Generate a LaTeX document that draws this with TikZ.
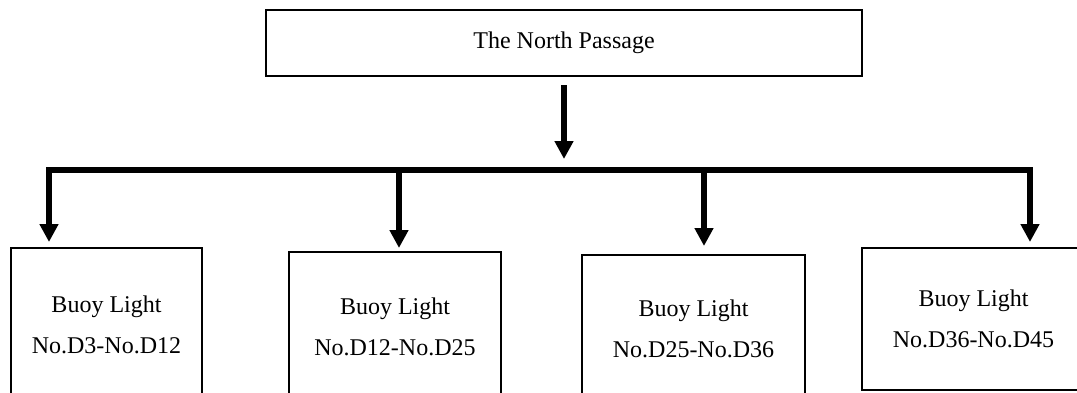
\documentclass[tikz,border=0pt]{standalone}
\usepackage{fontspec}
\setmainfont{Liberation Serif}
\usetikzlibrary{arrows.meta}

\begin{document}
\begin{tikzpicture}[x=0.5pt, y=-0.5pt,
        box/.style={draw, line width=1pt, align=center, font=\fontsize{12}{20.5}\selectfont},
        flow/.style={line width=3pt, -{Triangle[width=9pt, length=9pt]}},
        twoway/.style={line width=3pt, line join=miter, {Triangle[width=9pt, length=9pt]}-{Triangle[width=9pt, length=9pt]}}]
            \useasboundingbox (0, 0) rectangle (1077, 392);
            \clip (0, 0) rectangle (1077, 392);

            \node[box, minimum width=298pt, minimum height=33pt] (passage) at (564, 43) {The North Passage};

            \node[box, minimum width=95.5pt, minimum height=77pt] (light1) at (106.5, 325) {Buoy Light\\No.D3-No.D12};
            \node[box, minimum width=106pt, minimum height=75pt] (light2) at (395, 327) {Buoy Light\\No.D12-No.D25};
            \node[box, minimum width=111.5pt, minimum height=73.5pt] (light3) at (693.5, 328.5) {Buoy Light\\No.D25-No.D36};
            \node[box, minimum width=111.5pt, minimum height=71pt] (light4) at (973.5, 319) {Buoy Light\\No.D36-No.D45};

            \coordinate (busL) at (49, 170);
            \coordinate (busR) at (1030, 170);
            \coordinate (tap2) at (399, 170);
            \coordinate (tap3) at (704, 170);

            \draw[flow, shorten <=4pt, shorten >=5.5pt] (passage) -- (passage |- busL);
            \draw[twoway, shorten <=2.5pt, shorten >=2.5pt] (busL |- light1.north) -- (busL) -- (busR) -- (busR |- light4.north);
            \draw[flow, shorten >=1.5pt] (tap2) -- (tap2 |- light2.north);
            \draw[flow, shorten >=4pt] (tap3) -- (tap3 |- light3.north);
        \end{tikzpicture}
\end{document}
